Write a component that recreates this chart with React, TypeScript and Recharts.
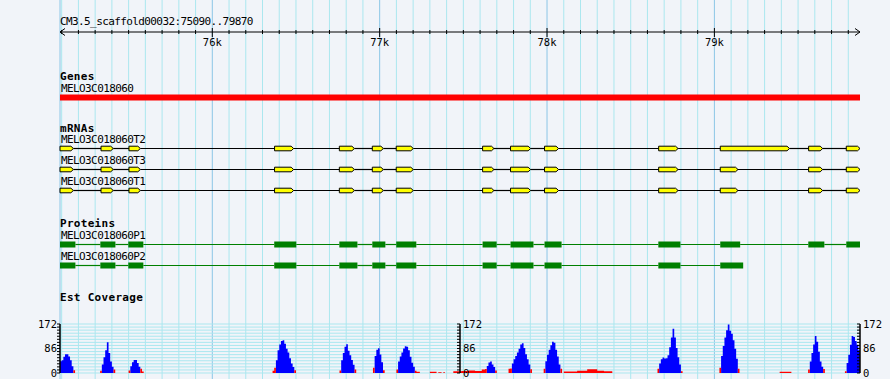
import { ComposedChart, XAxis, YAxis, ReferenceLine, ReferenceArea, Area, CartesianGrid } from "recharts";

const START = 75090;
const END = 79870;
const BG = "#f1f4f9";
const GRID = "#abe7ef";
const GRID_MAJOR = "#8cc6e6";
const FONT = "'DejaVu Sans Mono', monospace";

const regionTitle = "CM3.5_scaffold00032:75090..79870";
const minorTicks = Array.from({ length: 48 }, (_, i) => 75100 + i * 100);
const majorTicks = [76000, 77000, 78000, 79000];
const rulerTicks = [START, ...minorTicks, END];

type Part = [number, number];

const geneNames = ["MELO3C018060"];
const geneParts: Part[][] = [[[75090, 79870]]];

const mrnaNames = ["MELO3C018060T2", "MELO3C018060T3", "MELO3C018060T1"];
const mrnaT2: Part[] = [[75090, 75170], [75335, 75408], [75502, 75570], [76372, 76486], [76759, 76849], [76956, 77022], [77099, 77201], [77615, 77683], [77782, 77902], [77985, 78069], [78667, 78783], [79035, 79449], [79563, 79647], [79788, 79870]];
const mrnaT3: Part[] = [[75090, 75170], [75335, 75408], [75502, 75570], [76372, 76486], [76759, 76849], [76956, 77022], [77099, 77201], [77615, 77683], [77782, 77902], [77985, 78069], [78667, 78783], [79035, 79141], [79563, 79647], [79788, 79870]];
const mrnaT1: Part[] = [[75090, 75170], [75335, 75408], [75502, 75570], [76372, 76486], [76759, 76849], [76956, 77022], [77099, 77201], [77615, 77683], [77782, 77902], [77985, 78069], [78667, 78783], [79035, 79141], [79563, 79647], [79788, 79870]];

const proteinNames = ["MELO3C018060P1", "MELO3C018060P2"];
const proteinP1: Part[] = [[75090, 75182], [75331, 75421], [75498, 75588], [76370, 76502], [76759, 76867], [76956, 77034], [77099, 77219], [77615, 77699], [77782, 77919], [77985, 78087], [78665, 78797], [79035, 79154], [79561, 79657], [79788, 79870]];
const proteinP2: Part[] = [[75090, 75182], [75331, 75421], [75498, 75588], [76370, 76502], [76759, 76867], [76956, 77034], [77099, 77219], [77615, 77699], [77782, 77919], [77985, 78087], [78665, 78797], [79035, 79172]];

// est coverage, 10bp bins, one entry per covered stretch
const covMax = 172;
const covTicks = Array.from({ length: 17 }, (_, i) => i * 10.75);
const covLabels = [0, 86, 172];
const covPivot = 20;
const covPeaks = [
  { start: 75090, depth: [41, 45, 57, 66, 66, 58, 45, 24, 10] },
  { start: 75330, depth: [8, 30, 55, 80, 108, 70, 40, 22, 12] },
  { start: 75500, depth: [9, 24, 38, 46, 46, 35, 22, 15, 5] },
  { start: 76360, depth: [8, 18, 45, 80, 100, 112, 115, 103, 85, 72, 52, 33, 21, 10] },
  { start: 76760, depth: [9, 45, 70, 92, 101, 78, 62, 46, 29, 12] },
  { start: 76960, depth: [18, 60, 82, 87, 65, 38, 10] },
  { start: 77100, depth: [12, 40, 58, 72, 86, 94, 92, 80, 57, 36, 22, 8, 4, 4] },
  { start: 77300, depth: [4, 4, 4, 4] },
  { start: 77350, depth: [3, 3] },
  { start: 77380, depth: [3] },
  { start: 77440, depth: [6, 6, 6, 6, 6, 7, 7, 7, 7, 9, 9, 9, 9, 7, 7, 7, 7, 12, 12, 14, 25, 37, 40, 30, 21, 9] },
  { start: 77770, depth: [15, 16, 33, 48, 60, 72, 85, 100, 104, 88, 66, 48, 30, 13] },
  { start: 77980, depth: [15, 41, 64, 82, 97, 110, 106, 82, 58, 30, 15] },
  { start: 78100, depth: [5, 5, 5, 5, 5, 5, 5, 5, 8, 8, 8, 8, 8, 8, 13, 13, 13, 13, 13, 13, 8, 8, 8, 8, 6, 6, 6, 6, 6] },
  { start: 78660, depth: [15, 33, 48, 54, 51, 52, 62, 90, 125, 155, 125, 88, 55, 30, 6] },
  { start: 79030, depth: [18, 60, 95, 125, 150, 170, 148, 138, 115, 85, 50, 15] },
  { start: 79390, depth: [4, 4, 4, 4, 4, 4, 4] },
  { start: 79560, depth: [12, 40, 70, 100, 130, 110, 75, 40, 22, 14] },
  { start: 79780, depth: [6, 35, 64, 99, 130, 126, 112, 99, 80] },
];

const coverageRows = covPeaks.flatMap((p) => [
  ...p.depth.map((d, i) => ({ pos: p.start + i * 10, depth: d })),
  { pos: p.start + p.depth.length * 10, depth: 0 },
]).map((r) => ({
  ...r,
  hi: r.depth >= covPivot ? r.depth : 0,
  lo: r.depth < covPivot ? r.depth : 0,
}));

const ROW = 21;

function Txt({ x, base, text, bold }: { x: number; base: number; text: string; bold?: boolean }) {
  return (
    <div style={{
      position: "absolute", left: x, top: base - 9.3, fontFamily: FONT, fontSize: 11, lineHeight: "11px",
      fontWeight: bold ? 700 : 400, letterSpacing: bold ? "0.3px" : "-0.6px", whiteSpace: "nowrap", color: "#000",
    }}>{text}</div>
  );
}

const exonShape = (p: any) => {
  const { x, y, width, height } = p;
  const cy = y + height / 2;
  const h = 2.3;
  const tip = Math.min(2.5, width / 3);
  return (
    <polygon
      points={`${x},${cy - h} ${x + width - tip},${cy - h} ${x + width},${cy} ${x + width - tip},${cy + h} ${x},${cy + h}`}
      fill="#ffff00" stroke="#000" strokeWidth={1}
    />
  );
};
const boxShape = (color: string) => (p: any) => {
  const { x, y, width, height } = p;
  return <rect x={x} y={y + height / 2 - 3} width={width} height={6} fill={color} />;
};

function Track({ top, names, parts, line, shape }: {
  top: number; names: string[]; parts: Part[][]; line: string; shape: (p: any) => any;
}) {
  const n = names.length;
  const rows = parts.flatMap((row, i) => row.map((p) => ({ x: p[0], y: i })));
  return (
    <>
      <div style={{ position: "absolute", left: 0, top }}>
        <ComposedChart width={890} height={ROW * n} data={rows} margin={{ top: 0, right: 30, bottom: 0, left: 60 }}>
          <XAxis type="number" dataKey="x" domain={[START, END]} allowDataOverflow hide />
          <YAxis type="number" dataKey="y" domain={[-0.5, n - 0.5]} allowDataOverflow reversed hide />
          {parts.map((row, i) => row.slice(1).map((p, j) => (
            <ReferenceLine key={`l${i}-${j}`} segment={[{ x: row[j][1], y: i }, { x: p[0], y: i }]} stroke={line} strokeWidth={1.2} />
          )))}
          {parts.map((row, i) => row.map((p, j) => (
            <ReferenceArea key={`a${i}-${j}`} x1={p[0]} x2={p[1]} y1={i - 0.5} y2={i + 0.5} shape={shape} />
          )))}
        </ComposedChart>
      </div>
      {names.map((nm, i) => <Txt key={nm} x={61} base={top + ROW / 2 + ROW * i - 5} text={nm} />)}
    </>
  );
}

function RulerTick(props: any) {
  const { x, y, payload } = props;
  const v = payload.value;
  if (v === START) return <polyline points={`${x + 5},${y - 3.5} ${x},${y} ${x + 5},${y + 3.5}`} fill="none" stroke="#000" />;
  if (v === END) return <polyline points={`${x - 5},${y - 3.5} ${x},${y} ${x - 5},${y + 3.5}`} fill="none" stroke="#000" />;
  const major = majorTicks.includes(v);
  return (
    <g>
      <line x1={x} x2={x} y1={y - (major ? 4 : 2)} y2={y + (major ? 5 : 2)} stroke="#000" />
      {major && (
        <text x={x} y={y + 14} textAnchor="middle" fontFamily={FONT} fontSize={10.5} fill="#000">{`${v / 1000}k`}</text>
      )}
    </g>
  );
}

function CovTick(props: any) {
  const { x, y, payload, side } = props;
  const v = payload.value;
  const major = covLabels.includes(v);
  return (
    <g>
      <line x1={x - 3} x2={x} y1={y} y2={y} stroke="#000" />
      {major && (
        <text x={side === "left" ? x - 3 : x + 3} y={y + 3.5} textAnchor={side === "left" ? "end" : "start"}
          fontFamily={FONT} fontSize={10.5} fill="#000">{v}</text>
      )}
    </g>
  );
}

function covAxis(id: string, side: "left" | "right", width: number) {
  return (
    <YAxis yAxisId={id} orientation={side} width={width} type="number" domain={[0, covMax]} allowDataOverflow
      ticks={covTicks} interval={0} tickSize={0} tickMargin={0} tickLine={false}
      axisLine={{ stroke: "#000", strokeWidth: 1.5 }} tick={<CovTick side={side} />} />
  );
}

const gridRows = minorTicks.map((t) => ({ x: t, y: 0 }));
const rulerRows = rulerTicks.map((t) => ({ x: t, y: 0 }));

export default function App() {
  return (
    <div style={{ position: "relative", width: 890, height: 379, background: BG, overflow: "hidden" }}>
      <style>{`body{margin:0}`}</style>

      <div style={{ position: "absolute", left: 0, top: 0 }}>
        <ComposedChart width={890} height={379} data={gridRows} margin={{ top: 0, right: 30, bottom: 0, left: 60 }}>
          <XAxis type="number" dataKey="x" domain={[START, END]} allowDataOverflow hide />
          <YAxis type="number" dataKey="y" domain={[0, 1]} allowDataOverflow hide />
          {minorTicks.map((t) => (
            <ReferenceLine key={t} x={t} stroke={majorTicks.includes(t) ? GRID_MAJOR : GRID} strokeWidth={1} />
          ))}
          <ReferenceLine x={START} stroke={GRID_MAJOR} />
        </ComposedChart>
      </div>

      <Txt x={60} base={25} text={regionTitle} />
      <div style={{ position: "absolute", left: 0, top: 0 }}>
        <ComposedChart width={890} height={50} data={rulerRows} margin={{ top: 0, right: 30, bottom: 0, left: 60 }}>
          <XAxis type="number" dataKey="x" domain={[START, END]} allowDataOverflow ticks={rulerTicks} interval={0} height={18}
            tickSize={0} tickMargin={0} tickLine={false} axisLine={{ stroke: "#000" }} tick={<RulerTick />} />
          <YAxis type="number" dataKey="y" domain={[0, 1]} allowDataOverflow hide />
        </ComposedChart>
      </div>

      <Txt x={60} base={80} text="Genes" bold />
      <Track top={87} names={geneNames} parts={geneParts} line="#ff0000" shape={boxShape("#ff0000")} />

      <Txt x={60} base={132} text="mRNAs" bold />
      <Track top={138} names={mrnaNames} parts={[mrnaT2, mrnaT3, mrnaT1]} line="#000" shape={exonShape} />

      <Txt x={60} base={227} text="Proteins" bold />
      <Track top={234} names={proteinNames} parts={[proteinP1, proteinP2]} line="#008000" shape={boxShape("#008000")} />

      <Txt x={60} base={301} text="Est Coverage" bold />
      <div style={{ position: "absolute", left: 0, top: 314 }}>
        <ComposedChart width={890} height={65} data={coverageRows} margin={{ top: 10, right: 0, bottom: 6, left: 0 }}>
          <CartesianGrid yAxisId="left" vertical={false} stroke={GRID} />
          <XAxis type="number" dataKey="pos" domain={[START, END]} allowDataOverflow hide />
          {covAxis("left", "left", 60)}
          {covAxis("right", "right", 30)}
          <Area yAxisId="left" type="stepAfter" dataKey="hi" fill="#0000ff" fillOpacity={1} stroke="none" isAnimationActive={false} />
          <Area yAxisId="left" type="stepAfter" dataKey="lo" fill="#ff0000" fillOpacity={1} stroke="none" isAnimationActive={false} />
        </ComposedChart>
      </div>
      <div style={{ position: "absolute", left: 0, top: 314 }}>
        <ComposedChart width={890} height={65} margin={{ top: 10, right: 400, bottom: 6, left: 60 }}>
          <XAxis type="number" domain={[START, END]} allowDataOverflow hide />
          {covAxis("mid", "right", 30)}
        </ComposedChart>
      </div>
    </div>
  );
}
